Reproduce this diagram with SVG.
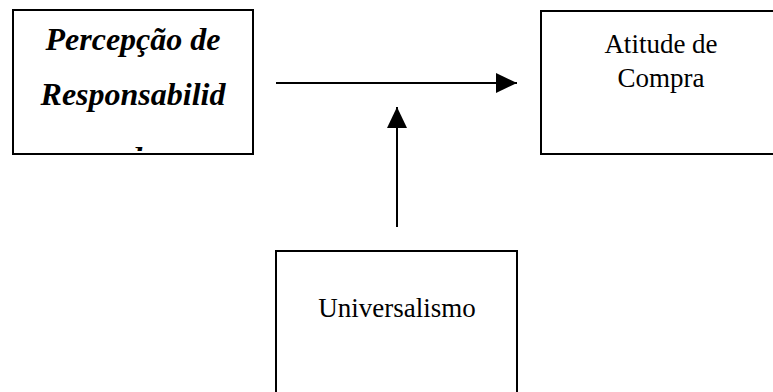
<svg xmlns="http://www.w3.org/2000/svg" width="773" height="392" viewBox="0 0 773 392">
<defs>
<style>
.box{fill:#fff;stroke:#000;stroke-width:2}
.t{font-family:"Liberation Serif","Times New Roman",serif;fill:#000;text-anchor:middle}
.bi{font-weight:bold;font-style:italic;font-size:32px}
.r{font-size:27px}
.ln{stroke:#000;stroke-width:2;fill:none}
</style>
<clipPath id="c1"><rect x="14" y="11" width="238" height="140"/></clipPath>
<marker id="ah" viewBox="0 0 21 20" refX="21" refY="10" markerWidth="21" markerHeight="20" markerUnits="userSpaceOnUse" orient="auto">
<path d="M0,0 L21,10 L0,20 Z" fill="#000"/>
</marker>
</defs>
<rect width="773" height="392" fill="#fff"/>
<g id="percepcao">
<rect class="box" x="13" y="10" width="240" height="144"/>
<g clip-path="url(#c1)">
<text class="t bi" x="133" y="50">Percepção de</text>
<text class="t bi" x="133" y="105">Responsabilid</text>
<text class="t bi" x="133" y="169">ade</text>
</g>
</g>
<g id="atitude">
<rect class="box" x="541" y="11" width="240" height="143"/>
<text class="t r" x="661" y="53">Atitude de</text>
<text class="t r" x="661" y="87">Compra</text>
</g>
<g id="universalismo">
<rect class="box" x="276" y="251" width="241" height="160"/>
<text class="t r" x="397" y="317">Universalismo</text>
</g>
<g id="connectors">
<line class="ln" x1="276" y1="83" x2="517" y2="83" marker-end="url(#ah)"/>
<line class="ln" x1="397" y1="227" x2="397" y2="107" marker-end="url(#ah)"/>
</g>
</svg>
